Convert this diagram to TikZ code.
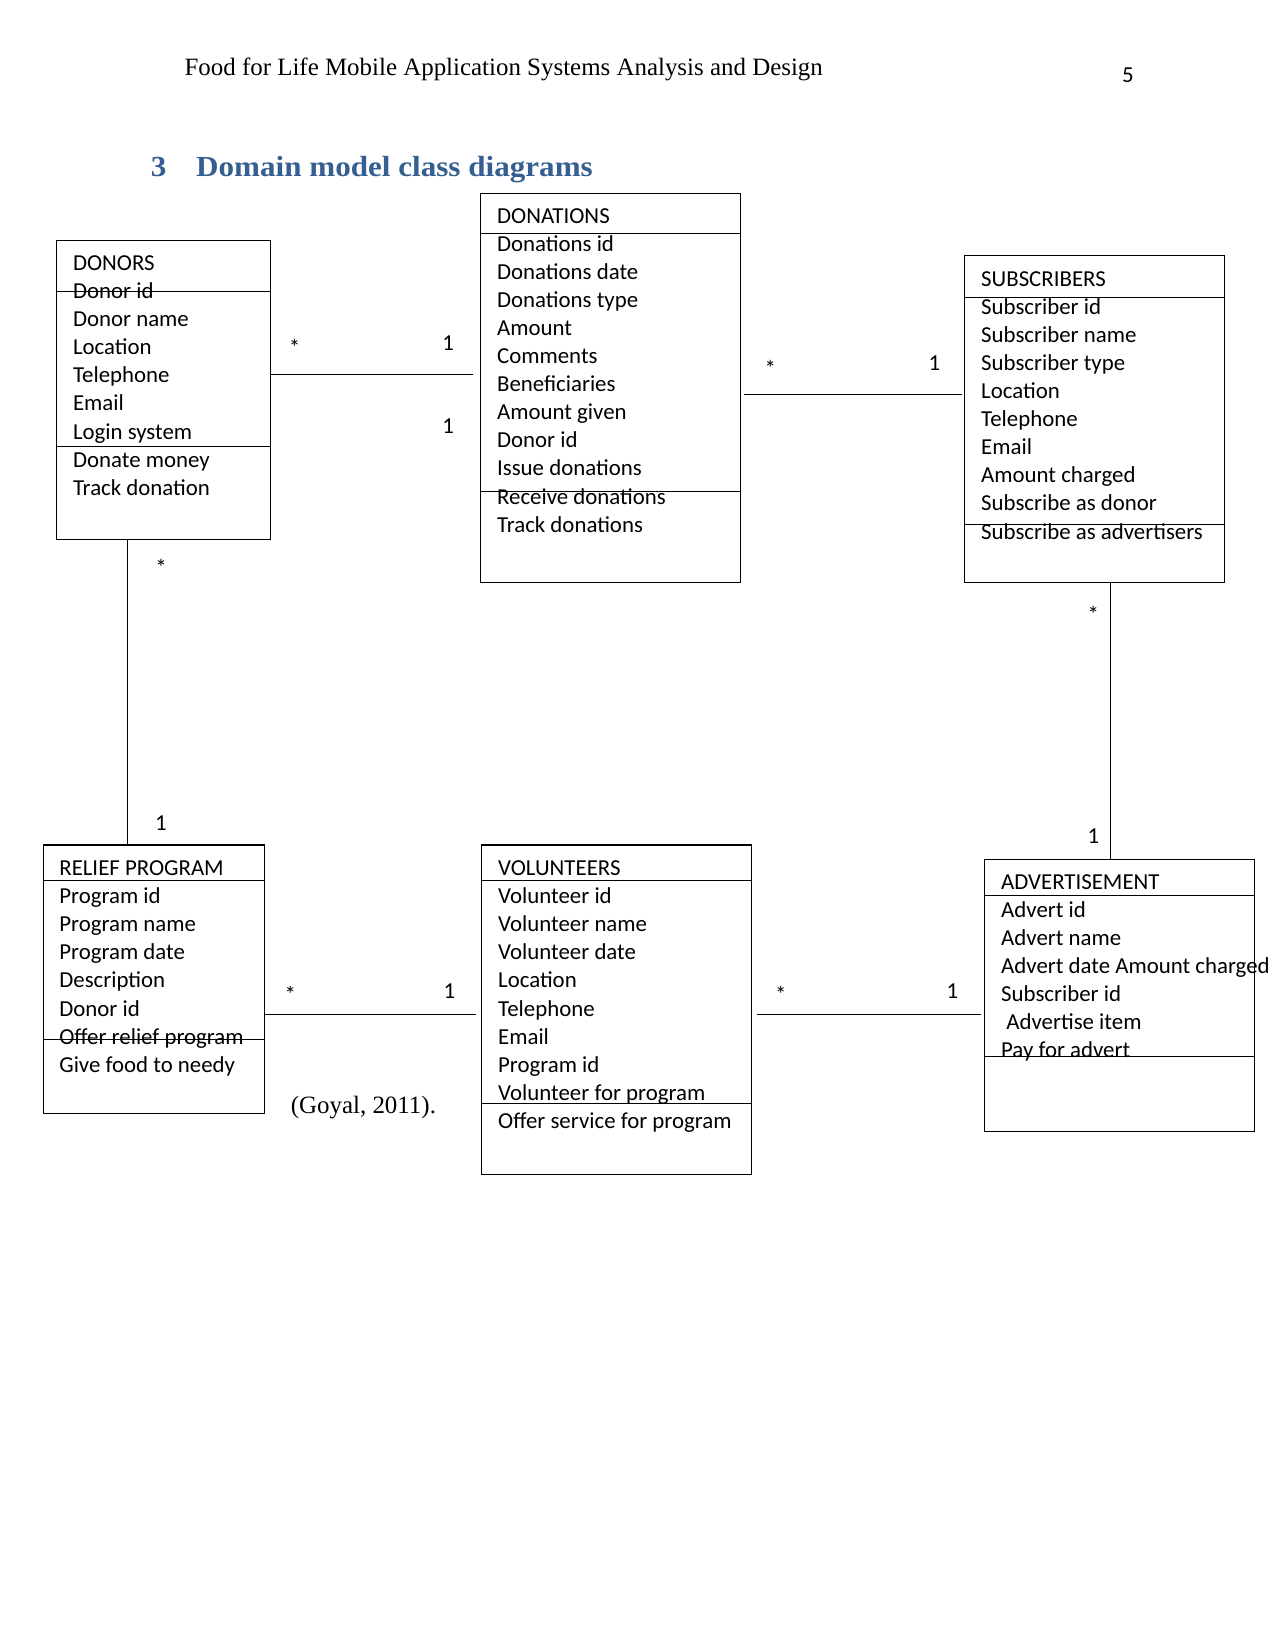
\documentclass[tikz,border=0pt]{standalone}
\usepackage{fontspec}
\setmainfont{Liberation Serif}
\newfontfamily\clsfont{Carlito}
\newfontfamily\headfont[FakeStretch=1.07]{Liberation Serif}
\usetikzlibrary{fit}
\definecolor{headblue}{HTML}{365F91}
\tikzset{
  cls/.style={draw,line width=0.5pt,inner sep=0pt},
  row/.style={anchor=base west,inner sep=0pt,font=\clsfont\fontsize{11}{13.5}\selectfont},
  mult/.style={anchor=base,inner sep=0pt,font=\clsfont\fontsize{11}{13.5}\selectfont},
  link/.style={line width=0.5pt},
  serif/.style={anchor=base west,inner sep=0pt,font=\fontsize{12}{14}\selectfont},
  sechead/.style={serif,font=\headfont\fontsize{14}{17}\selectfont\bfseries,text=headblue},
}

\begin{document}
\begin{tikzpicture}[x=0.017813cm,y=-0.017813cm]
\useasboundingbox (0,0) rectangle (1212,1568);
% page head and section title
\node[serif] (runhead) at (175,72) {Food for Life Mobile Application Systems Analysis and Design};
\node[row] (pageno) at (1066,78) {5};
\node[sechead] (secno) at (143,168) {3};
\node[sechead] (sectitle) at (186,168) {Domain model class diagrams};

% class boxes
\node[cls,fit={(54,229) (257,513)}] (donors) {};
\node[cls,fit={(457,184) (704,554)}] (donations) {};
\node[cls,fit={(917,243) (1164,554)}] (subscribers) {};
\node[cls,fit={(41,803) (251,1058)}] (relief) {};
\node[cls,fit={(458,803) (714,1116)}] (volunteers) {};
\node[cls,fit={(936,817) (1192,1075)}] (advert) {};
\foreach \l/\r/\y in {54/257/277,54/257/424,457/704/222,457/704/467,917/1164/283,917/1164/498,
  41/251/837,41/251/988,458/714/837,458/714/1049,936/1192/851,936/1192/1004}
  \draw[link] (\l,\y) -- (\r,\y);

% class contents
\foreach \t [count=\i from 0] in {DONORS,Donor id,Donor name,Location,Telephone,Email,Login system,Donate money,Track donation}
  \node[row] (donors-\i) at (69,{257+26.7*\i}) {\t};
\foreach \t [count=\i from 0] in {DONATIONS,Donations id,Donations date,Donations type,Amount,Comments,Beneficiaries,Amount given,Donor id,Issue donations,Receive donations,Track donations}
  \node[row] (donations-\i) at (472,{212+26.7*\i}) {\t};
\foreach \t [count=\i from 0] in {SUBSCRIBERS,Subscriber id,Subscriber name,Subscriber type,Location,Telephone,Email,Amount charged,Subscribe as donor,Subscribe as advertisers}
  \node[row] (subscribers-\i) at (932,{272+26.7*\i}) {\t};
\foreach \t [count=\i from 0] in {RELIEF PROGRAM,Program id,Program name,Program date,Description,Donor id,Offer relief program,Give food to needy}
  \node[row] (relief-\i) at (56,{832+26.7*\i}) {\t};
\foreach \t [count=\i from 0] in {VOLUNTEERS,Volunteer id,Volunteer name,Volunteer date,Location,Telephone,Email,Program id,Volunteer for program,Offer service for program}
  \node[row] (volunteers-\i) at (473,{832+26.7*\i}) {\t};
\foreach \t [count=\i from 0] in {ADVERTISEMENT,Advert id,Advert name,Advert date Amount charged,Subscriber id,{\hspace{2.5pt}Advertise item},Pay for advert}
  \node[row] (advert-\i) at (951,{845+26.7*\i}) {\t};

% associations
\coordinate (r1) at (0,356);
\coordinate (r2) at (0,375);
\coordinate (r3) at (0,964);
\coordinate (c1) at (121,0);
\coordinate (c2) at (1055,0);
\draw[link,shorten >=3.5pt] (donors.east |- r1) -- (donations.west |- r1);
\draw[link,shorten <=1.5pt,shorten >=1pt] (donations.east |- r2) -- (subscribers.west |- r2);
\draw[link,shorten >=2.5pt] (relief.east |- r3) -- (volunteers.west |- r3);
\draw[link,shorten <=2.5pt,shorten >=1.5pt] (volunteers.east |- r3) -- (advert.west |- r3);
\draw[link] (donors.south -| c1) -- (relief.north -| c1);
\draw[link] (subscribers.south -| c2) -- (advert.north -| c2);

% multiplicities
\foreach \x/\y/\m [count=\i] in {280/338/*,426/333/1,426/412/1,732/358/*,888/352/1,153/547/*,153/789/1,
  1039/592/*,1039/802/1,276/953/*,427/949/1,742/953/*,905/949/1}
  \node[mult] (m\i) at (\x,\y) {\m};

\node[serif] (cite) at (276,1058) {(Goyal, 2011).};
\end{tikzpicture}
\end{document}
